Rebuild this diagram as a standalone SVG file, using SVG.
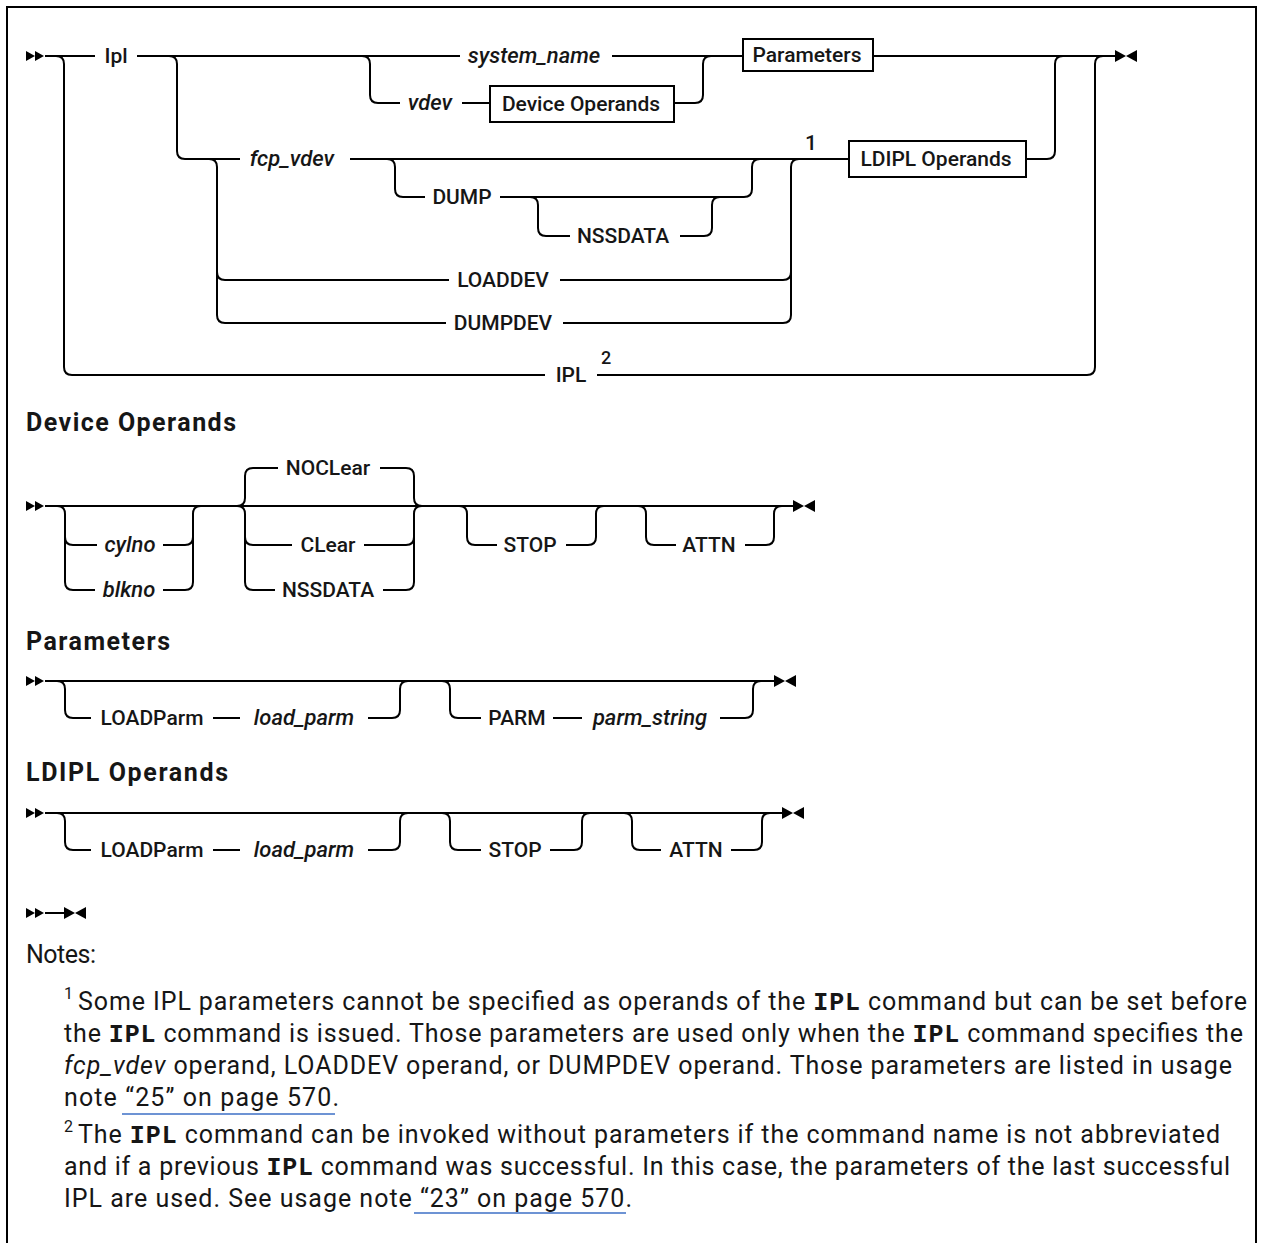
<svg xmlns="http://www.w3.org/2000/svg" width="1274" height="1243" viewBox="0 0 1274 1243">
<style>
.ln{fill:none;stroke:#000;stroke-width:2}
.t{font-family:Roboto,"Liberation Sans",sans-serif;font-size:21px;font-weight:500;fill:#161616;text-anchor:middle}
.i{font-style:italic;font-size:22px}
.box{fill:#fff;stroke:#000;stroke-width:2}
.h{font-family:Roboto,"Liberation Sans",sans-serif;font-size:25px;font-weight:700;fill:#161616}
.n{font-family:Roboto,"Liberation Sans",sans-serif;font-size:25px;fill:#161616}
.sup{font-family:Roboto,"Liberation Sans",sans-serif;font-size:16px;fill:#161616}
.m{font-family:"Liberation Mono",monospace;font-weight:700}
.lk{stroke:#3d6fc6;stroke-width:1.5}
</style>
<defs>
<g id="st"><polygon points="0,-5 9,0 0,5" fill="#000"/><polygon points="9,-5 18,0 9,5" fill="#000"/></g>
<g id="en"><polygon points="0,-6 11,0 0,6" fill="#000"/><polygon points="22,-6 11,0 22,6" fill="#000"/></g>
</defs>
<rect width="1274" height="1243" fill="#fff"/>
<path class="ln" d="M7,1243 V7 H1256 V1243"/>

<g id="connectors">
<path class="ln" d="M45,56 H95 M137,56 H460 M612,56 H743 M873,56 H1115"/>
<path class="ln" d="M56,56 Q64,56 64,64 V367 Q64,375 72,375 H545 M597,375 H1087 Q1095,375 1095,367 V64 Q1095,56 1103,56"/>
<path class="ln" d="M169,56 Q177,56 177,64 V151 Q177,159 185,159 H240 M350,159 H849 M1026,159 H1047 Q1055,159 1055,151 V64 Q1055,56 1063,56"/>
<path class="ln" d="M362,56 Q370,56 370,64 V95 Q370,103 378,103 H400 M462,103 H490 M674,103 H695 Q703,103 703,95 V64 Q703,56 711,56"/>
<path class="ln" d="M387,159 Q395,159 395,167 V189 Q395,197 403,197 H425 M500,197 H744 Q752,197 752,189 V167 Q752,159 760,159"/>
<path class="ln" d="M530,197 Q538,197 538,205 V228 Q538,236 546,236 H570 M680,236 H704 Q712,236 712,228 V205 Q712,197 720,197"/>
<path class="ln" d="M209,159 Q217,159 217,167 V272 Q217,280 225,280 H449 M560,280 H783 Q791,280 791,272 V167 Q791,159 799,159"/>
<path class="ln" d="M217,272 V315 Q217,323 225,323 H446 M563,323 H783 Q791,323 791,315 V272"/>

<path class="ln" d="M45,506 H793"/>
<path class="ln" d="M57,506 Q65,506 65,514 V537 Q65,545 73,545 H97 M163,545 H185 Q193,545 193,537 V514 Q193,506 201,506"/>
<path class="ln" d="M65,537 V582 Q65,590 73,590 H95 M163,590 H185 Q193,590 193,582 V537"/>
<path class="ln" d="M237,506 Q245,506 245,498 V476 Q245,468 253,468 H278 M380,468 H406 Q414,468 414,476 V498 Q414,506 422,506"/>
<path class="ln" d="M237,506 Q245,506 245,514 V537 Q245,545 253,545 H292 M364,545 H406 Q414,545 414,537 V514 Q414,506 422,506"/>
<path class="ln" d="M245,537 V582 Q245,590 253,590 H275 M383,590 H406 Q414,590 414,582 V537"/>
<path class="ln" d="M459,506 Q467,506 467,514 V537 Q467,545 475,545 H497 M566,545 H588 Q596,545 596,537 V514 Q596,506 604,506"/>
<path class="ln" d="M638,506 Q646,506 646,514 V537 Q646,545 654,545 H676 M745,545 H766 Q774,545 774,537 V514 Q774,506 782,506"/>

<path class="ln" d="M45,681 H774"/>
<path class="ln" d="M57,681 Q65,681 65,689 V710 Q65,718 73,718 H91 M213,718 H240 M368,718 H392 Q400,718 400,710 V689 Q400,681 408,681"/>
<path class="ln" d="M442,681 Q450,681 450,689 V710 Q450,718 458,718 H481 M553,718 H582 M720,718 H745 Q753,718 753,710 V689 Q753,681 761,681"/>

<path class="ln" d="M45,813 H782"/>
<path class="ln" d="M57,813 Q65,813 65,821 V842 Q65,850 73,850 H91 M213,850 H240 M368,850 H392 Q400,850 400,842 V821 Q400,813 408,813"/>
<path class="ln" d="M442,813 Q450,813 450,821 V842 Q450,850 458,850 H481 M550,850 H574 Q582,850 582,842 V821 Q582,813 590,813"/>
<path class="ln" d="M624,813 Q632,813 632,821 V842 Q632,850 640,850 H661 M731,850 H754 Q762,850 762,842 V821 Q762,813 770,813"/>

<path class="ln" d="M45,913 H64"/>

<use href="#st" x="26" y="56"/>
<use href="#en" x="1115" y="56"/>
<use href="#st" x="26" y="506"/>
<use href="#en" x="793" y="506"/>
<use href="#st" x="26" y="681"/>
<use href="#en" x="774" y="681"/>
<use href="#st" x="26" y="813"/>
<use href="#en" x="782" y="813"/>
<use href="#st" x="26" y="913"/>
<use href="#en" x="64" y="913"/>
</g>

<g id="n-ipl"><text class="t" x="116" y="63">Ipl</text></g>
<g id="n-system_name"><text class="t i" x="534" y="63">system_name</text></g>
<g id="n-vdev"><text class="t i" x="430" y="110">vdev</text></g>
<g id="n-device-operands"><rect class="box" x="490" y="86" width="184" height="36"/><text class="t" x="581" y="111">Device Operands</text></g>
<g id="n-parameters"><rect class="box" x="743" y="39" width="130" height="32"/><text class="t" x="807" y="62">Parameters</text></g>
<g id="n-fcp_vdev"><text class="t i" x="292" y="166">fcp_vdev</text></g>
<g id="n-note1"><text class="t" x="811" y="150">1</text></g>
<g id="n-ldipl-operands"><rect class="box" x="849" y="141" width="177" height="36"/><text class="t" x="936" y="166">LDIPL Operands</text></g>
<g id="n-dump"><text class="t" x="462" y="204">DUMP</text></g>
<g id="n-nssdata"><text class="t" x="623" y="243">NSSDATA</text></g>
<g id="n-loaddev"><text class="t" x="503" y="287">LOADDEV</text></g>
<g id="n-dumpdev"><text class="t" x="503" y="330">DUMPDEV</text></g>
<g id="n-IPL"><text class="t" x="571" y="382">IPL</text></g>
<g id="n-note2"><text class="t" x="606" y="364" style="font-size:18px">2</text></g>

<g id="h-device"><text class="h" x="26" y="431" textLength="210">Device Operands</text></g>
<g id="n-cylno"><text class="t i" x="130" y="552">cylno</text></g>
<g id="n-blkno"><text class="t i" x="129" y="597">blkno</text></g>
<g id="n-noclear"><text class="t" x="328" y="475">NOCLear</text></g>
<g id="n-clear"><text class="t" x="328" y="552">CLear</text></g>
<g id="n-nssdata2"><text class="t" x="328" y="597">NSSDATA</text></g>
<g id="n-stop1"><text class="t" x="530" y="552">STOP</text></g>
<g id="n-attn1"><text class="t" x="709" y="552">ATTN</text></g>

<g id="h-parameters"><text class="h" x="26" y="650" textLength="144">Parameters</text></g>
<g id="n-loadparm1"><text class="t" x="152" y="725">LOADParm</text><text class="t i" x="304" y="725">load_parm</text></g>
<g id="n-parm"><text class="t" x="517" y="725">PARM</text><text class="t i" x="650" y="725">parm_string</text></g>

<g id="h-ldipl"><text class="h" x="26" y="781" textLength="202">LDIPL Operands</text></g>
<g id="n-loadparm2"><text class="t" x="152" y="857">LOADParm</text><text class="t i" x="304" y="857">load_parm</text></g>
<g id="n-stop2"><text class="t" x="515" y="857">STOP</text></g>
<g id="n-attn2"><text class="t" x="696" y="857">ATTN</text></g>

<g id="notes">
<text class="n" x="26" y="963" textLength="70">Notes:</text>
<text class="sup" x="64" y="999">1</text>
<text class="n" x="78" y="1010" textLength="1169">Some IPL parameters cannot be specified as operands of the <tspan class="m">IPL</tspan> command but can be set before</text>
<text class="n" x="64" y="1042" textLength="1179">the <tspan class="m">IPL</tspan> command is issued. Those parameters are used only when the <tspan class="m">IPL</tspan> command specifies the</text>
<text class="n" x="64" y="1074" textLength="1168"><tspan font-style="italic">fcp_vdev</tspan> operand, LOADDEV operand, or DUMPDEV operand. Those parameters are listed in usage</text>
<text class="n" x="64" y="1106" textLength="275">note “25” on page 570.</text>
<path class="lk" d="M122,1114 H335"/>
<text class="sup" x="64" y="1132">2</text>
<text class="n" x="78" y="1143" textLength="1142">The <tspan class="m">IPL</tspan> command can be invoked without parameters if the command name is not abbreviated</text>
<text class="n" x="64" y="1175" textLength="1166">and if a previous <tspan class="m">IPL</tspan> command was successful. In this case, the parameters of the last successful</text>
<text class="n" x="64" y="1207" textLength="568">IPL are used. See usage note “23” on page 570.</text>
<path class="lk" d="M414,1213 H626"/>
</g>
</svg>
